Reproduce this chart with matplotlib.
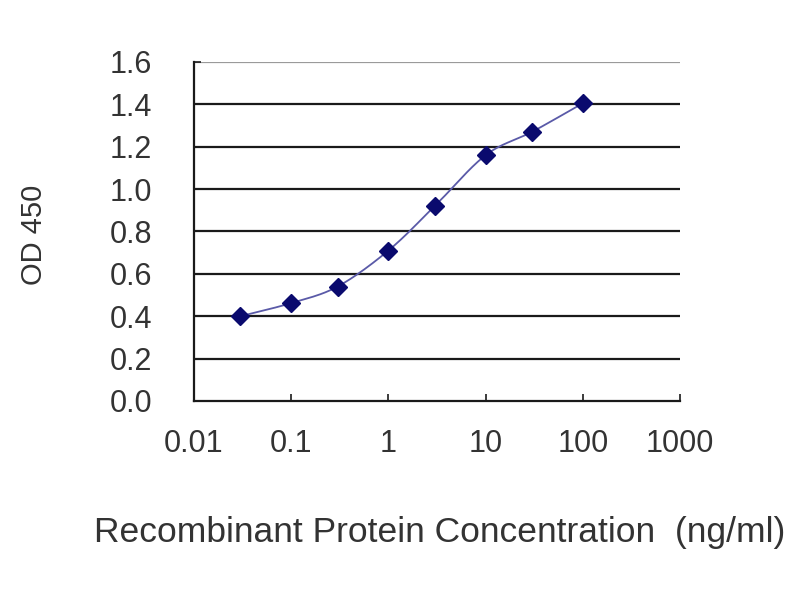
import numpy as np
import matplotlib
matplotlib.use("Agg")
import matplotlib.pyplot as plt

# 数据
conc = [0.03, 0.1, 0.3, 1, 3, 10, 30, 100]  # ng/ml
od450 = [0.40, 0.462, 0.54, 0.71, 0.92, 1.16, 1.27, 1.405]
y_ticks = [0.0, 0.2, 0.4, 0.6, 0.8, 1.0, 1.2, 1.4, 1.6]
x_ticks = [0.01, 0.1, 1, 10, 100, 1000]
x_tick_labels = ["0.01", "0.1", "1", "10", "100", "1000"]

plt.rcParams['font.family'] = ['Liberation Sans', 'DejaVu Sans']

fig = plt.figure(figsize=(8, 6), dpi=100)
ax = fig.add_axes([0.2425, 0.3317, 0.6075, 0.565])

# 网格线
for y in y_ticks[1:]:
    ax.axhline(y, color='#9a9a9a' if y == 1.6 else '#1a1a1a',
               lw=1.6, zorder=1)

# 平滑曲线 (对数空间 Catmull-Rom)
lx = np.log10(conc)
ly = np.array(od450)
px = np.concatenate([[2 * lx[0] - lx[1]], lx, [2 * lx[-1] - lx[-2]]])
py = np.concatenate([[2 * ly[0] - ly[1]], ly, [2 * ly[-1] - ly[-2]]])
cx, cy = [], []
t = np.linspace(0, 1, 20)
for i in range(1, len(px) - 2):
    p0, p1, p2, p3 = px[i - 1], px[i], px[i + 1], px[i + 2]
    q0, q1, q2, q3 = py[i - 1], py[i], py[i + 1], py[i + 2]
    cx.extend(0.5 * (2 * p1 + (-p0 + p2) * t + (2 * p0 - 5 * p1 + 4 * p2 - p3) * t**2
                     + (-p0 + 3 * p1 - 3 * p2 + p3) * t**3))
    cy.extend(0.5 * (2 * q1 + (-q0 + q2) * t + (2 * q0 - 5 * q1 + 4 * q2 - q3) * t**2
                     + (-q0 + 3 * q1 - 3 * q2 + q3) * t**3))
ax.plot(10 ** np.array(cx), cy, color='#5a5aa8', lw=1.3, zorder=2)
ax.plot(conc, od450, linestyle='none', marker='D', markersize=9,
        color='#0a0a6e', zorder=3)

ax.set_xscale('log')
ax.set_xlim(0.01, 1000)
ax.set_ylim(0, 1.6)
ax.set_xticks(x_ticks)
ax.set_xticklabels(x_tick_labels)
ax.minorticks_off()
ax.set_yticks(y_ticks)
ax.set_yticklabels([f"{v:.1f}" for v in y_ticks])

ax.tick_params(axis='y', direction='in', length=5, width=1.2,
               labelsize=22, pad=30, colors='#1a1a1a', labelcolor='#333333')
ax.tick_params(axis='x', direction='in', length=5, width=1.2,
               labelsize=22, pad=20, colors='#1a1a1a', labelcolor='#333333')

for s in ['top', 'right']:
    ax.spines[s].set_visible(False)
for s in ['left', 'bottom']:
    ax.spines[s].set_linewidth(1.6)
    ax.spines[s].set_color('#1a1a1a')

fig.text(0.043, 0.608, "OD 450", rotation=90, ha='center', va='center',
         fontsize=21, color='#333333')
fig.text(0.55, 0.113, "Recombinant Protein Concentration  (ng/ml)",
         ha='center', va='center', fontsize=25.5, color='#333333')

fig.savefig('out.png', dpi=100)
